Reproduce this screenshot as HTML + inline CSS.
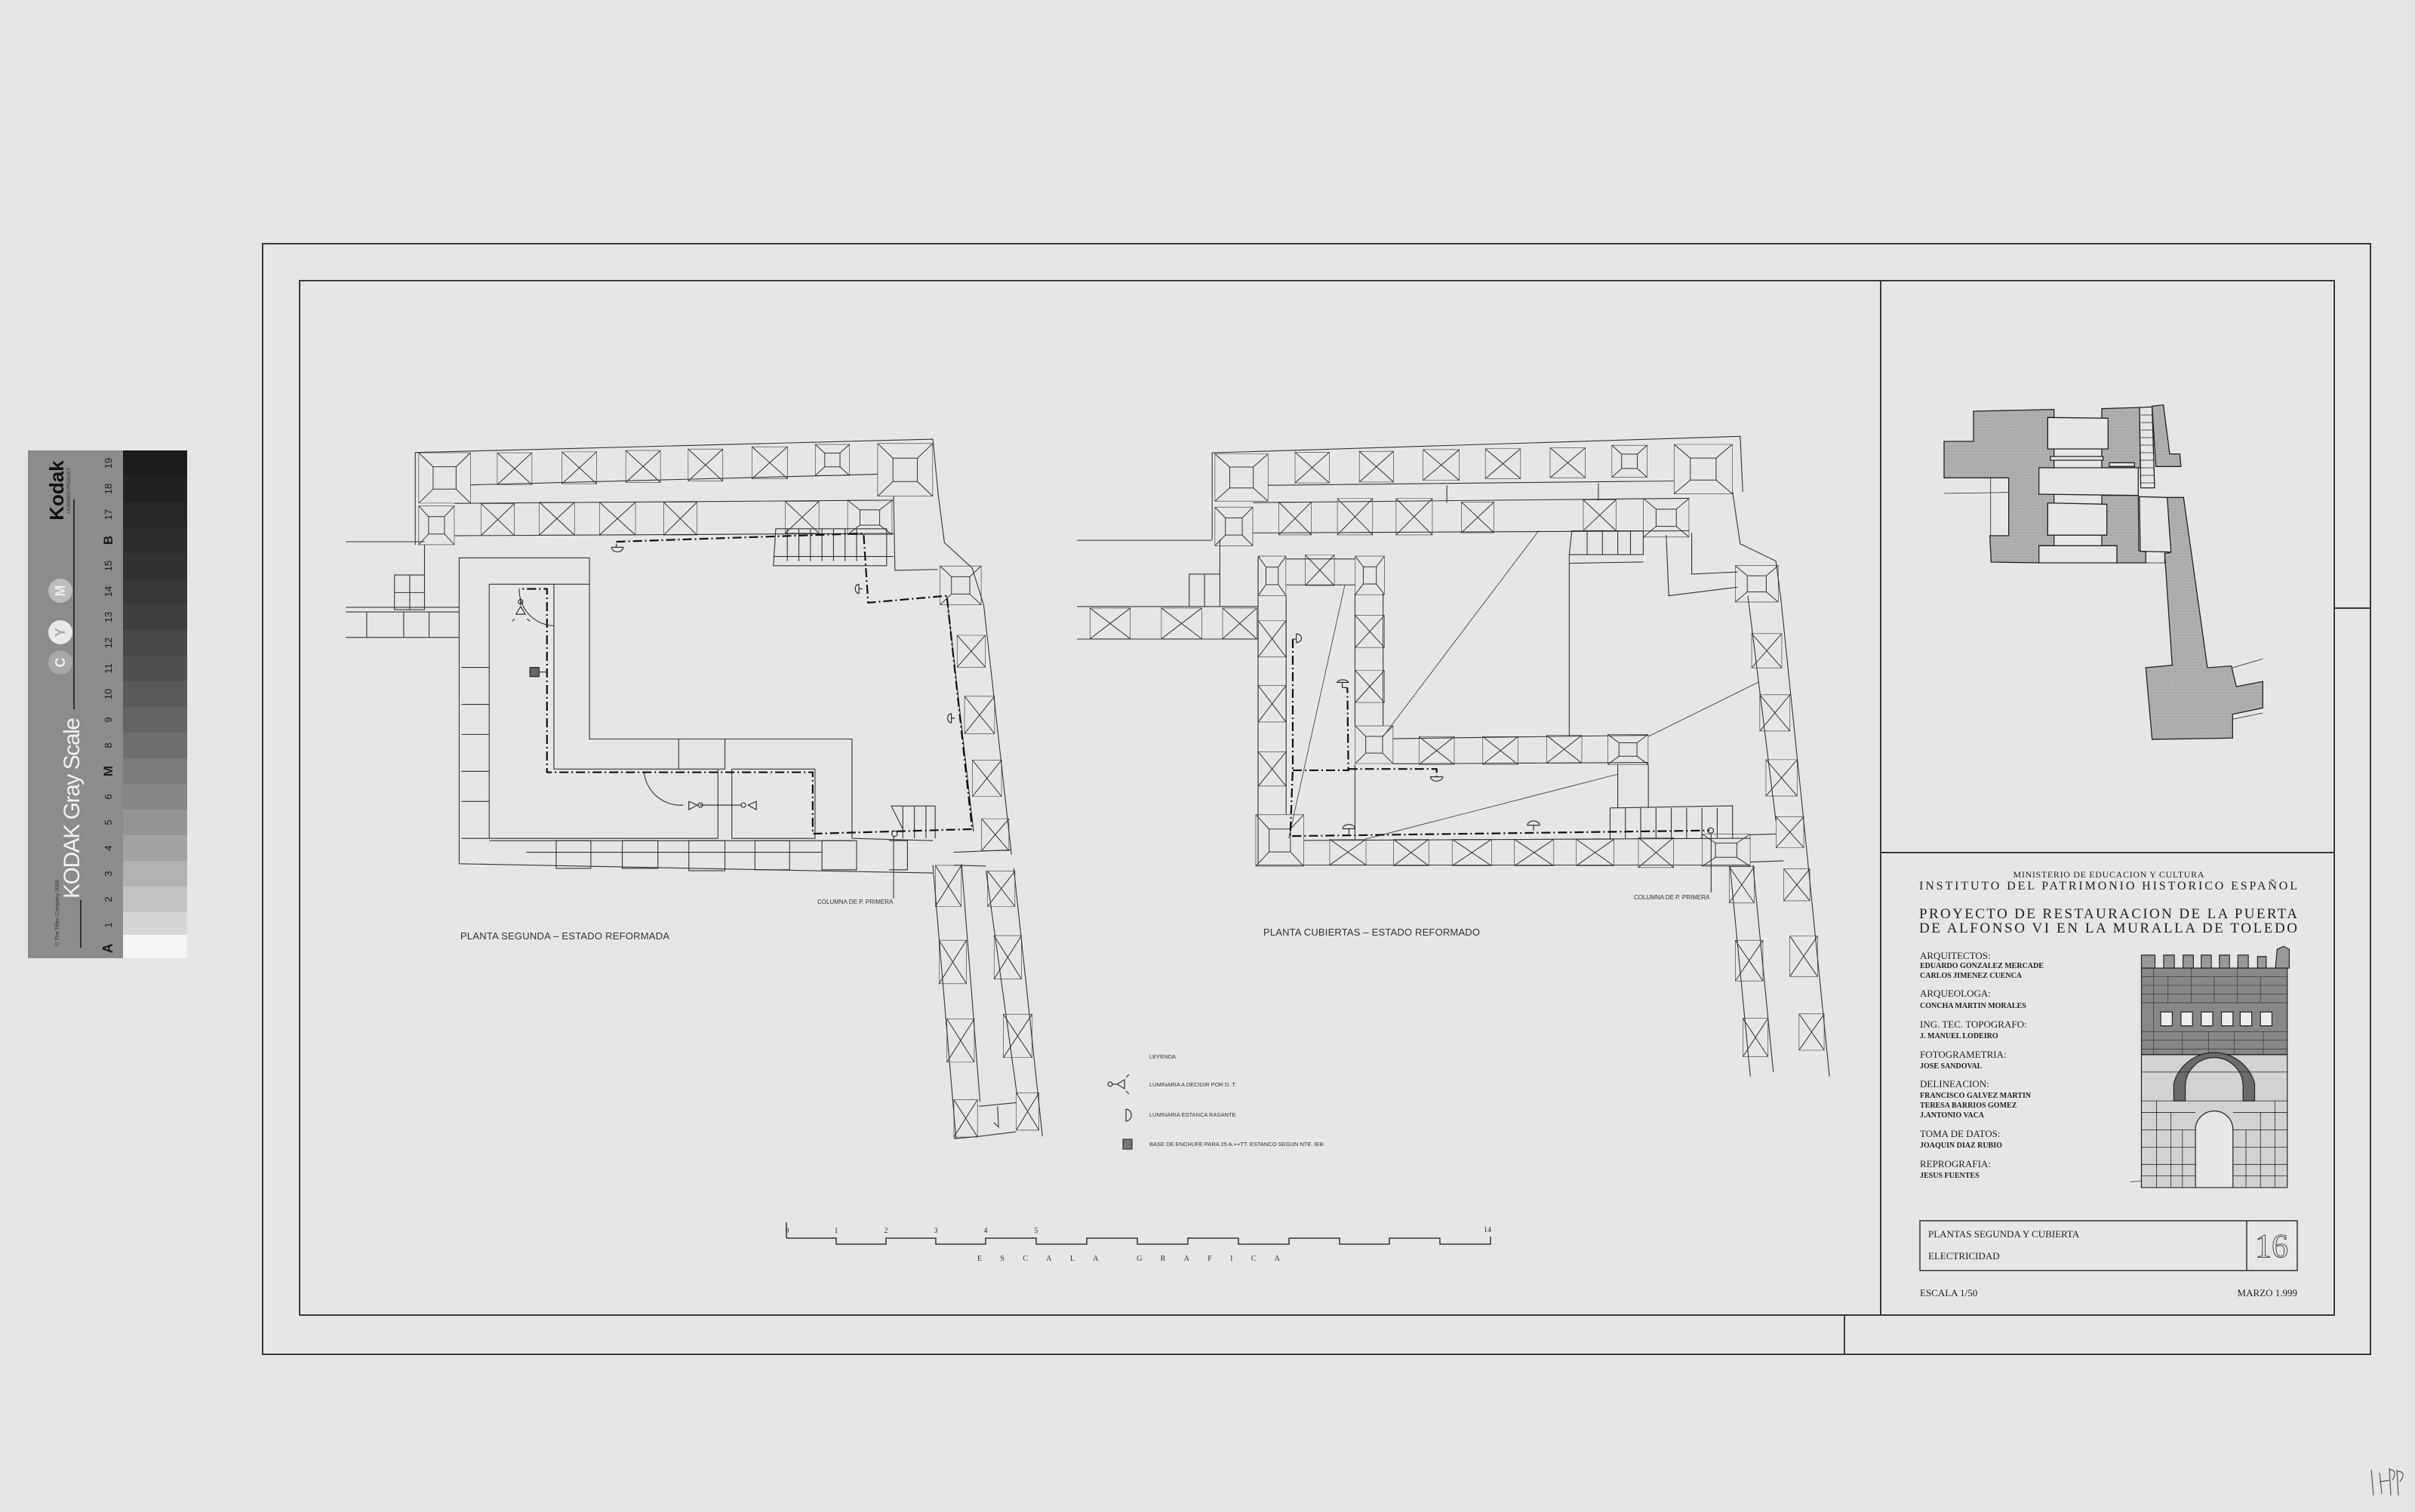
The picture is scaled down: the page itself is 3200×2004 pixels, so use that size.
<!DOCTYPE html>
<html><head><meta charset="utf-8"><style>
html,body{margin:0;padding:0;background:#e6e6e6;}
svg{display:block}
.s{font-family:"Liberation Serif",serif;fill:#222}
.a{font-family:"Liberation Sans",sans-serif;fill:#333}
</style></head><body>
<svg width="3200" height="2004" viewBox="0 0 3200 2004" xmlns="http://www.w3.org/2000/svg">
<defs>
<symbol id="xb" viewBox="0 0 100 100" preserveAspectRatio="none">
<rect x="0" y="0" width="100" height="100" fill="none" stroke="#333" stroke-width="1.2" vector-effect="non-scaling-stroke"/>
<path d="M0 0L100 100M100 0L0 100" stroke="#333" stroke-width="1" vector-effect="non-scaling-stroke"/>
</symbol>
<symbol id="hb" viewBox="0 0 100 100" preserveAspectRatio="none">
<rect x="0" y="0" width="100" height="100" fill="none" stroke="#333" stroke-width="1.2" vector-effect="non-scaling-stroke"/>
<rect x="28" y="28" width="44" height="44" fill="none" stroke="#333" stroke-width="1" vector-effect="non-scaling-stroke"/>
<path d="M0 0L28 28M100 0L72 28M0 100L28 72M100 100L72 72" stroke="#333" stroke-width="1" vector-effect="non-scaling-stroke"/>
</symbol>
<pattern id="dots" width="4" height="4" patternUnits="userSpaceOnUse"><rect width="4" height="4" fill="#b8b8b8"/><circle cx="2" cy="2" r="1" fill="#777"/></pattern>
</defs>

<!-- Kodak gray card -->
<rect x="37" y="597" width="126" height="673" fill="#8c8c8c"/>
<g>
<rect x="163" y="597" width="85" height="34" fill="#1c1c1c"/>
<rect x="163" y="631" width="85" height="34" fill="#212121"/>
<rect x="163" y="665" width="85" height="34" fill="#262626"/>
<rect x="163" y="699" width="85" height="34" fill="#2c2c2c"/>
<rect x="163" y="733" width="85" height="34" fill="#323232"/>
<rect x="163" y="767" width="85" height="34" fill="#383838"/>
<rect x="163" y="801" width="85" height="34" fill="#3f3f3f"/>
<rect x="163" y="835" width="85" height="34" fill="#474747"/>
<rect x="163" y="869" width="85" height="34" fill="#505050"/>
<rect x="163" y="903" width="85" height="34" fill="#5a5a5a"/>
<rect x="163" y="937" width="85" height="34" fill="#646464"/>
<rect x="163" y="971" width="85" height="34" fill="#6f6f6f"/>
<rect x="163" y="1005" width="85" height="34" fill="#7b7b7b"/>
<rect x="163" y="1039" width="85" height="34" fill="#878787"/>
<rect x="163" y="1073" width="85" height="34" fill="#949494"/>
<rect x="163" y="1107" width="85" height="34" fill="#a3a3a3"/>
<rect x="163" y="1141" width="85" height="34" fill="#b2b2b2"/>
<rect x="163" y="1175" width="85" height="34" fill="#c3c3c3"/>
<rect x="163" y="1209" width="85" height="30" fill="#d6d6d6"/>
<rect x="163" y="1239" width="85" height="31" fill="#f6f6f6"/>
</g>
<g font-family="Liberation Sans,sans-serif" font-size="13" fill="#1a1a1a" text-anchor="middle">
<text transform="translate(148,614) rotate(-90)">19</text>
<text transform="translate(148,648) rotate(-90)">18</text>
<text transform="translate(148,682) rotate(-90)">17</text>
<text transform="translate(149,716) rotate(-90)" font-weight="bold" font-size="17">B</text>
<text transform="translate(148,750) rotate(-90)">15</text>
<text transform="translate(148,784) rotate(-90)">14</text>
<text transform="translate(148,818) rotate(-90)">13</text>
<text transform="translate(148,852) rotate(-90)">12</text>
<text transform="translate(148,886) rotate(-90)">11</text>
<text transform="translate(148,920) rotate(-90)">10</text>
<text transform="translate(148,954) rotate(-90)">9</text>
<text transform="translate(148,988) rotate(-90)">8</text>
<text transform="translate(149,1022) rotate(-90)" font-weight="bold" font-size="17">M</text>
<text transform="translate(148,1056) rotate(-90)">6</text>
<text transform="translate(148,1090) rotate(-90)">5</text>
<text transform="translate(148,1124) rotate(-90)">4</text>
<text transform="translate(148,1158) rotate(-90)">3</text>
<text transform="translate(148,1192) rotate(-90)">2</text>
<text transform="translate(148,1226) rotate(-90)">1</text>
<text transform="translate(149,1257) rotate(-90)" font-weight="bold" font-size="18">A</text>
</g>
<text transform="translate(105,1071) rotate(-90)" font-family="Liberation Sans,sans-serif" font-size="30" fill="#f2f2f2" text-anchor="middle" textLength="240">KODAK Gray Scale</text>
<text transform="translate(84,650) rotate(-90)" font-family="Liberation Sans,sans-serif" font-size="26" font-weight="bold" fill="#111" text-anchor="middle">Kodak</text>
<text transform="translate(93,650) rotate(-90)" font-family="Liberation Sans,sans-serif" font-size="6" fill="#222" text-anchor="middle">LICENSED PRODUCT</text>
<text transform="translate(78,1210) rotate(-90)" font-family="Liberation Sans,sans-serif" font-size="7" fill="#333" text-anchor="middle">© The Tiffen Company 2000</text>
<line x1="98" y1="662" x2="98" y2="940" stroke="#111" stroke-width="1.5"/>
<line x1="107" y1="1193" x2="107" y2="1256" stroke="#111" stroke-width="1.5"/>
<circle cx="80" cy="878" r="16" fill="#a8a8a8"/><text transform="translate(86,878) rotate(-90)" font-family="Liberation Sans,sans-serif" font-size="18" font-weight="bold" fill="#eee" text-anchor="middle">C</text>
<circle cx="80" cy="838" r="16" fill="#e8e8e8"/><text transform="translate(86,838) rotate(-90)" font-family="Liberation Sans,sans-serif" font-size="18" font-weight="bold" fill="#aaa" text-anchor="middle">Y</text>
<circle cx="80" cy="783" r="16" fill="#bdbdbd"/><text transform="translate(86,783) rotate(-90)" font-family="Liberation Sans,sans-serif" font-size="18" font-weight="bold" fill="#eee" text-anchor="middle">M</text>

<!-- frames -->
<g fill="none" stroke="#3a3a3a" stroke-width="2">
<rect x="348" y="323" width="2793" height="1472"/>
<rect x="397" y="372" width="2696" height="1371"/>
<line x1="2492" y1="372" x2="2492" y2="1743"/>
<line x1="2492" y1="1130" x2="3093" y2="1130"/>
<line x1="3093" y1="806" x2="3141" y2="806"/>
<line x1="2444" y1="1743" x2="2444" y2="1795"/>
</g>

<!-- LEFT PLAN -->
<g transform="translate(440,560) scale(0.6124)" fill="none" stroke="#333" stroke-width="1.1">
<path vector-effect="non-scaling-stroke" d="M180 265L180 65L1300 36L1312 160M300 135L1180 112M265 175L1215 168M265 245L1215 240M1215 160L1218 320L1310 318M200 265L200 330M30 258L200 258M30 400L275 400M30 410L275 410M30 465L275 465M75 410L75 465M155 410L155 465M210 410L210 465M135 330L200 330L200 405L135 405ZM135 368L200 368M168 330L168 405"/>
<path vector-effect="non-scaling-stroke" d="M1312 160L1325 260L1385 315L1410 395L1470 935M1330 375L1388 885M1300 958L1350 1550M1362 955L1402 1470M1415 970L1482 1455M1475 965L1537 1545M1345 1550L1400 1545L1480 1535M1400 1480L1480 1472M1440 1480L1442 1525L1432 1515M1345 930L1470 925M1345 958L1415 960"/>
<path vector-effect="non-scaling-stroke" d="M275 465L275 293L557 293L557 685L1125 685L1125 900M340 350L557 350M340 350L340 900L835 900L835 750M480 350L480 750L750 750M750 685L750 750L850 750L850 685M865 750L1045 750L1045 900L865 900ZM1125 900L1300 905M275 465L275 955L1300 975M340 905L1125 905M420 930L1060 930M280 530L340 530L340 610L280 610M280 675L340 675L340 755L280 755M280 820L340 820L340 900L280 900"/>
<path vector-effect="non-scaling-stroke" d="M485 905L560 905L560 965L485 965ZM628 905L705 905L705 965L628 965ZM772 905L850 905L850 970L772 970ZM915 905L990 905L990 968L915 968ZM1060 905L1135 905L1135 968L1060 968ZM1205 905L1245 905L1245 968L1205 968"/>
<path vector-effect="non-scaling-stroke" d="M960 230L1200 230L1200 310L955 310ZM985 230L985 300M1010 230L1010 300M1035 230L1035 300M1060 230L1060 300M1085 230L1085 300M1110 230L1110 300M1135 230L1135 300M955 290L1215 290M1210 830L1305 830L1305 900M1235 830L1235 900M1260 830L1260 900M1285 830L1285 900M1210 830L1235 880"/>
<path vector-effect="non-scaling-stroke" d="M480 440A78 78 0 0 1 405 360M675 757A80 80 0 0 0 760 828"/>
<path vector-effect="non-scaling-stroke" d="M1215 895L1215 1030"/>
<use href="#hb" x="187" y="65" width="113" height="110"/>
<use href="#xb" x="357" y="65" width="76" height="70"/>
<use href="#xb" x="497" y="63" width="76" height="70"/>
<use href="#xb" x="635" y="60" width="76" height="70"/>
<use href="#xb" x="770" y="57" width="76" height="70"/>
<use href="#xb" x="908" y="52" width="78" height="70"/>
<use href="#hb" x="1045" y="47" width="75" height="68"/>
<use href="#hb" x="1180" y="45" width="120" height="115"/>
<use href="#hb" x="187" y="180" width="78" height="85"/>
<use href="#xb" x="322" y="175" width="73" height="70"/>
<use href="#xb" x="448" y="172" width="77" height="72"/>
<use href="#xb" x="578" y="172" width="79" height="72"/>
<use href="#xb" x="717" y="172" width="73" height="72"/>
<use href="#xb" x="980" y="170" width="74" height="70"/>
<use href="#hb" x="1115" y="168" width="97" height="75"/>
<use href="#hb" x="1315" y="310" width="90" height="85"/>
<use href="#xb" x="1352" y="460" width="62" height="70"/>
<use href="#xb" x="1368" y="592" width="66" height="82"/>
<use href="#xb" x="1385" y="730" width="64" height="80"/>
<use href="#xb" x="1405" y="857" width="60" height="70"/>
<use href="#xb" x="1305" y="958" width="57" height="90"/>
<use href="#xb" x="1313" y="1120" width="60" height="95"/>
<use href="#xb" x="1330" y="1290" width="60" height="95"/>
<use href="#xb" x="1345" y="1465" width="52" height="82"/>
<use href="#xb" x="1418" y="970" width="60" height="78"/>
<use href="#xb" x="1432" y="1110" width="60" height="95"/>
<use href="#xb" x="1452" y="1280" width="63" height="95"/>
<use href="#xb" x="1480" y="1450" width="50" height="82"/>
<path vector-effect="non-scaling-stroke" stroke="#111" stroke-width="2.2" stroke-dasharray="12 4 2 4" d="M615 258L1150 240L1160 390L1330 375L1385 880L1040 890L1040 757L465 757L465 360L405 360"/>
<g stroke="#222">
<path vector-effect="non-scaling-stroke" d="M615 262L615 270M605 270A10 8 0 0 0 630 270ZM1148 360L1140 360M1140 350A8 10 0 0 0 1140 370ZM1348 640L1340 640M1340 630A8 10 0 0 0 1340 650Z"/>
<path vector-effect="non-scaling-stroke" d="M408 385L408 395M398 415L418 415L408 398ZM395 425L390 430M422 425L428 430M795 828L835 828L885 828M790 828L772 820L772 838ZM900 828L918 820L918 838Z"/>
<circle vector-effect="non-scaling-stroke" cx="408" cy="388" r="5"/><circle vector-effect="non-scaling-stroke" cx="797" cy="828" r="5"/><circle vector-effect="non-scaling-stroke" cx="890" cy="828" r="5"/>
<rect vector-effect="non-scaling-stroke" x="428" y="530" width="20" height="20" fill="#666"/>
<path vector-effect="non-scaling-stroke" d="M448 540L465 540"/>
<circle vector-effect="non-scaling-stroke" cx="1217" cy="890" r="6"/>
</g>
</g>
<text class="a" x="1083" y="1198" font-size="8">COLUMNA DE P. PRIMERA</text>
<text class="a" x="610" y="1245" font-size="13" textLength="277" fill="#444">PLANTA SEGUNDA  –  ESTADO REFORMADA</text>

<!-- RIGHT PLAN -->
<g transform="translate(1400,560) scale(0.676,0.574)" fill="none" stroke="#333" stroke-width="1.1">
<path vector-effect="non-scaling-stroke" d="M305 270L305 70L1340 32L1345 160M415 145L1210 135M765 145L765 185M1062 140L1062 180M385 185L1240 175M385 255L1240 250M40 272L305 272M40 425L395 425M40 500L395 500M260 425L260 350L320 350L320 425M290 350L290 425M320 270L320 350"/>
<path vector-effect="non-scaling-stroke" d="M395 310L395 1020M450 400L450 905M450 375L585 375M450 315L585 315M640 395L640 700M585 395L585 700M660 730L1160 722M660 788L1160 785M1100 790L1100 890M1160 790L1160 890M390 1022L1360 1022M485 965L1360 960M585 790L585 962"/>
<path vector-effect="non-scaling-stroke" d="M1010 250L1150 250L1150 305L1005 305ZM1040 250L1040 305M1070 250L1070 305M1100 250L1100 305M1125 250L1125 305M1005 325L1150 322M1005 305L1005 725M1195 260L1200 400L1335 380M1245 255L1245 350L1335 345M1085 890L1325 885L1325 960M1085 890L1085 962M1115 890L1115 960M1145 890L1145 960M1175 890L1175 960M1205 890L1205 960M1235 890L1235 960M1265 890L1265 960M1295 890L1295 960M1360 952L1410 950M1360 1015L1425 1012"/>
<path vector-effect="non-scaling-stroke" d="M1325 160L1340 280L1410 320L1420 410L1468 960L1515 1510M1355 400L1410 920M1320 1025L1360 1510M1365 1022L1405 1500"/>
<path vector-effect="non-scaling-stroke" stroke-width="0.8" d="M640 725L945 250M455 960L565 375M605 962L1100 812M1160 725L1375 600"/>
<path vector-effect="non-scaling-stroke" d="M1283 950L1283 1085"/>
<use href="#hb" x="310" y="72" width="105" height="110"/>
<use href="#xb" x="467" y="68" width="68" height="72"/>
<use href="#xb" x="593" y="66" width="68" height="72"/>
<use href="#xb" x="718" y="62" width="72" height="72"/>
<use href="#xb" x="840" y="60" width="70" height="70"/>
<use href="#xb" x="967" y="58" width="70" height="70"/>
<use href="#hb" x="1088" y="52" width="70" height="75"/>
<use href="#hb" x="1210" y="50" width="115" height="115"/>
<use href="#hb" x="310" y="195" width="75" height="90"/>
<use href="#xb" x="435" y="183" width="65" height="77"/>
<use href="#xb" x="550" y="175" width="70" height="85"/>
<use href="#xb" x="665" y="175" width="72" height="85"/>
<use href="#xb" x="793" y="183" width="65" height="72"/>
<use href="#xb" x="1032" y="178" width="65" height="72"/>
<use href="#hb" x="1150" y="175" width="90" height="90"/>
<use href="#xb" x="65" y="428" width="80" height="72"/>
<use href="#xb" x="205" y="428" width="80" height="72"/>
<use href="#xb" x="325" y="428" width="68" height="72"/>
<use href="#hb" x="395" y="308" width="55" height="92"/>
<use href="#xb" x="487" y="305" width="58" height="72"/>
<use href="#hb" x="585" y="308" width="58" height="90"/>
<use href="#xb" x="395" y="457" width="55" height="85"/>
<use href="#xb" x="395" y="607" width="55" height="85"/>
<use href="#xb" x="395" y="760" width="55" height="80"/>
<use href="#hb" x="390" y="905" width="95" height="120"/>
<use href="#xb" x="585" y="445" width="58" height="75"/>
<use href="#xb" x="585" y="572" width="58" height="75"/>
<use href="#hb" x="585" y="700" width="75" height="88"/>
<use href="#xb" x="710" y="725" width="70" height="65"/>
<use href="#xb" x="835" y="725" width="70" height="65"/>
<use href="#xb" x="960" y="722" width="70" height="65"/>
<use href="#hb" x="1080" y="720" width="80" height="70"/>
<use href="#xb" x="535" y="962" width="72" height="60"/>
<use href="#xb" x="660" y="962" width="70" height="62"/>
<use href="#xb" x="775" y="962" width="78" height="62"/>
<use href="#xb" x="897" y="962" width="78" height="62"/>
<use href="#xb" x="1018" y="962" width="75" height="62"/>
<use href="#xb" x="1140" y="958" width="70" height="70"/>
<use href="#hb" x="1265" y="950" width="95" height="75"/>
<use href="#hb" x="1330" y="330" width="85" height="85"/>
<use href="#xb" x="1362" y="487" width="60" height="80"/>
<use href="#xb" x="1378" y="628" width="60" height="85"/>
<use href="#xb" x="1390" y="778" width="62" height="85"/>
<use href="#xb" x="1410" y="910" width="55" height="72"/>
<use href="#xb" x="1425" y="1030" width="52" height="75"/>
<use href="#xb" x="1437" y="1185" width="55" height="95"/>
<use href="#xb" x="1455" y="1365" width="50" height="85"/>
<use href="#xb" x="1318" y="1025" width="50" height="85"/>
<use href="#xb" x="1330" y="1195" width="55" height="95"/>
<use href="#xb" x="1345" y="1375" width="50" height="90"/>
<path vector-effect="non-scaling-stroke" stroke="#111" stroke-width="2.2" stroke-dasharray="12 4 2 4" d="M463 500L463 800L458 955L1280 942M463 803L572 803L570 612M572 800L745 800L745 818"/>
<g stroke="#222">
<path vector-effect="non-scaling-stroke" d="M463 500L470 500M470 488A10 10 0 0 1 470 508ZM570 612L560 612L560 600M550 600A12 10 0 0 1 572 600ZM733 818A12 10 0 0 0 757 818ZM573 950L573 938M561 938A12 10 0 0 1 585 938ZM935 942L935 930M923 930A12 10 0 0 1 947 930Z"/>
<circle vector-effect="non-scaling-stroke" cx="1282" cy="942" r="6"/>
</g>
</g>
<text class="a" x="2165" y="1192" font-size="8">COLUMNA DE P. PRIMERA</text>
<text class="a" x="1674" y="1240" font-size="13" textLength="287" fill="#444">PLANTA CUBIERTAS  –  ESTADO REFORMADO</text>

<!-- legend -->
<g font-family="Liberation Sans,sans-serif" font-size="7.5" fill="#333">
<text x="1523" y="1403">LEYENDA</text>
<text x="1523" y="1440">LUMINARIA A DECIDIR POR D. T.</text>
<text x="1523" y="1480">LUMINARIA ESTANCA RASANTE</text>
<text x="1523" y="1519">BASE DE ENCHUFE PARA 25 A.++TT. ESTANCO SEGUN NTE. IEB</text>
</g>
<g fill="none" stroke="#333" stroke-width="1.2">
<circle cx="1471" cy="1437" r="3"/><path d="M1474 1437L1480 1437L1490 1431L1490 1443L1480 1437M1492 1428L1496 1424M1492 1446L1496 1450"/>
<path d="M1492 1470L1492 1486A7 8 0 0 0 1492 1470"/>
<rect x="1488" y="1510" width="12" height="13" fill="#777"/>
</g>

<!-- scale bar -->
<path d="M1042 1641L1108 1641L1108 1649L1174 1649L1174 1641L1240 1641L1240 1649L1306 1649L1306 1641L1373 1641L1373 1649L1440 1649L1440 1641L1507 1641L1507 1649L1574 1649L1574 1641L1641 1641L1641 1649L1708 1649L1708 1641L1775 1641L1775 1649L1841 1649L1841 1641L1908 1641L1908 1649L1975 1649L1975 1639M1042 1641L1042 1620" fill="none" stroke="#333" stroke-width="1.5"/>
<g font-family="Liberation Serif,serif" font-size="10" fill="#333" text-anchor="middle">
<text x="1043" y="1634">0</text><text x="1108" y="1634">1</text><text x="1174" y="1634">2</text><text x="1240" y="1634">3</text><text x="1306" y="1634">4</text><text x="1373" y="1634">5</text><text x="1971" y="1633">14</text>
</g>
<text x="1295" y="1671" font-family="Liberation Serif,serif" font-size="10" fill="#333" textLength="425" letter-spacing="24">ESCALA GRAFICA</text>

<!-- site plan -->
<g transform="translate(2550,510) scale(0.3333)" stroke="#222" stroke-width="1.3">
<path vector-effect="non-scaling-stroke" fill="url(#dots)" d="M78 225L195 225L195 105L515 98L515 130L490 130L490 255L515 255L515 330L455 330L455 435L515 435L515 470L490 470L490 598L515 598L515 640L455 640L455 708L265 705L260 600L335 600L335 370L78 370Z"/>
<path vector-effect="non-scaling-stroke" fill="url(#dots)" d="M705 95L855 90L858 330L705 330ZM705 440L850 440L852 660L880 665L880 708L765 708L765 640L705 640Z"/>
<path vector-effect="non-scaling-stroke" fill="url(#dots)" d="M905 85L950 80L975 275L1015 275L1020 325L920 325Z"/>
<path vector-effect="non-scaling-stroke" fill="url(#dots)" d="M965 448L1030 448L1125 1125L1220 1118L1240 1200L1345 1180L1345 1285L1225 1310L1225 1405L905 1410L880 1125L985 1115L955 670L975 668Z"/>
<g fill="#e6e6e6">
<path vector-effect="non-scaling-stroke" d="M490 130L730 133L730 255L490 255Z"/>
<path vector-effect="non-scaling-stroke" d="M500 285L710 285L710 300L500 300Z"/>
<path vector-effect="non-scaling-stroke" d="M455 330L850 330L850 440L455 435Z"/>
<path vector-effect="non-scaling-stroke" d="M490 470L725 475L725 598L490 598Z"/>
<path vector-effect="non-scaling-stroke" d="M455 640L765 640L765 708L455 708Z"/>
<path vector-effect="non-scaling-stroke" d="M855 445L965 448L980 665L858 662Z"/>
<path vector-effect="non-scaling-stroke" d="M855 90L905 88L915 410L860 410Z"/>
<path vector-effect="non-scaling-stroke" d="M735 310L835 310L835 325L735 325Z"/>
</g>
<path vector-effect="non-scaling-stroke" fill="none" stroke-width="0.8" d="M860 120L905 120M860 150L908 150M860 180L910 180M860 210L910 210M860 240L912 240M860 270L912 270M860 300L912 300M860 330L914 330M860 360L914 360M860 390L915 390M78 432L335 428M263 370L263 600M1225 1125L1345 1090M1225 1330L1345 1305M880 708L955 708M955 670L955 708"/>
</g>

<!-- title block text -->
<g class="s">
<text x="2794" y="1163" font-size="12" text-anchor="middle" textLength="253" class="s">MINISTERIO DE EDUCACION Y CULTURA</text>
<text x="2543" y="1179" font-size="16" textLength="501" class="s">INSTITUTO DEL PATRIMONIO HISTORICO ESPAÑOL</text>
<text x="2543" y="1217" font-size="19" textLength="501" class="s">PROYECTO DE RESTAURACION DE LA PUERTA</text>
<text x="2543" y="1236" font-size="19" textLength="501" class="s">DE ALFONSO VI EN LA MURALLA DE TOLEDO</text>
<g font-size="13">
<text x="2544" y="1271">ARQUITECTOS:</text>
<text x="2544" y="1321">ARQUEOLOGA:</text>
<text x="2544" y="1362">ING. TEC. TOPOGRAFO:</text>
<text x="2544" y="1402">FOTOGRAMETRIA:</text>
<text x="2544" y="1441">DELINEACION:</text>
<text x="2544" y="1507">TOMA DE DATOS:</text>
<text x="2544" y="1547">REPROGRAFIA:</text>
</g>
<g font-size="10" font-weight="bold">
<text x="2544" y="1283">EDUARDO GONZALEZ MERCADE</text>
<text x="2544" y="1296">CARLOS JIMENEZ CUENCA</text>
<text x="2544" y="1336">CONCHA MARTIN MORALES</text>
<text x="2544" y="1376">J. MANUEL LODEIRO</text>
<text x="2544" y="1416">JOSE SANDOVAL</text>
<text x="2544" y="1455">FRANCISCO GALVEZ MARTIN</text>
<text x="2544" y="1468">TERESA BARRIOS GOMEZ</text>
<text x="2544" y="1481">J.ANTONIO VACA</text>
<text x="2544" y="1521">JOAQUIN DIAZ RUBIO</text>
<text x="2544" y="1561">JESUS FUENTES</text>
</g>
<rect x="2544" y="1618" width="500" height="66" fill="none" stroke="#333" stroke-width="1.5"/>
<line x1="2977" y1="1618" x2="2977" y2="1684" stroke="#333" stroke-width="1.5"/>
<text x="2555" y="1640" font-size="13">PLANTAS SEGUNDA Y CUBIERTA</text>
<text x="2555" y="1669" font-size="13">ELECTRICIDAD</text>
<text x="3010" y="1666" font-size="44" text-anchor="middle" fill="none" stroke="#222" stroke-width="0.8">16</text>
<text x="2544" y="1718" font-size="13">ESCALA 1/50</text>
<text x="3044" y="1718" font-size="13" text-anchor="end">MARZO 1.999</text>
</g>

<!-- gate elevation -->
<g transform="translate(2490,1130) scale(0.3827)" stroke="#222" stroke-width="1.2">
<rect vector-effect="non-scaling-stroke" x="908" y="400" width="505" height="300" fill="#888"/>
<path vector-effect="non-scaling-stroke" fill="none" stroke="#333" stroke-width="0.7" d="M908 430L1413 430M908 460L1413 460M908 490L1413 490M908 520L1413 520M908 620L1413 620M908 650L1413 650M908 680L1413 680M950 400L950 700M1000 430L1000 520M1080 400L1080 520M1160 430L1160 520M1240 400L1240 520M1320 430L1320 520M1050 620L1050 700M1140 620L1140 700M1230 620L1230 700M1330 620L1330 700"/>
<path vector-effect="non-scaling-stroke" fill="#999" d="M908 400L908 355L955 355L955 400ZM985 400L985 355L1022 355L1022 400ZM1052 400L1052 355L1088 355L1088 400ZM1115 400L1115 355L1150 355L1150 400ZM1178 400L1178 355L1213 355L1213 400ZM1242 400L1242 355L1278 355L1278 400ZM1310 400L1310 360L1340 360L1340 400ZM1372 400L1378 335L1400 325L1420 335L1420 400Z"/>
<rect vector-effect="non-scaling-stroke" x="908" y="700" width="505" height="460" fill="#d2d2d2"/>
<path vector-effect="non-scaling-stroke" fill="#6a6a6a" d="M1020 860L1020 800A145 145 0 0 1 1300 800L1300 860L1260 860L1260 810A100 100 0 0 0 1060 810L1060 860Z"/>
<path vector-effect="non-scaling-stroke" fill="#e6e6e6" d="M1095 1160L1095 960A65 65 0 0 1 1225 960L1225 1160Z"/>
<g fill="#eee">
<rect vector-effect="non-scaling-stroke" x="975" y="552" width="40" height="48"/>
<rect vector-effect="non-scaling-stroke" x="1045" y="552" width="40" height="48"/>
<rect vector-effect="non-scaling-stroke" x="1115" y="552" width="40" height="48"/>
<rect vector-effect="non-scaling-stroke" x="1185" y="552" width="40" height="48"/>
<rect vector-effect="non-scaling-stroke" x="1250" y="552" width="40" height="48"/>
<rect vector-effect="non-scaling-stroke" x="1320" y="552" width="40" height="48"/>
</g>
<path vector-effect="non-scaling-stroke" fill="none" stroke-width="0.8" d="M908 760L1413 760M908 900L1095 900M1225 900L1413 900M908 960L1095 960M1225 960L1413 960M908 1020L1095 1020M1225 1020L1413 1020M908 1080L1095 1080M1225 1080L1413 1080M908 1120L1095 1120M1225 1120L1413 1120M960 860L960 1160M1010 900L1010 1160M1050 960L1050 1160M1270 960L1270 1160M1320 900L1320 1160M1370 860L1370 1160M870 1140L908 1138M908 860L1413 860"/>
</g>

<!-- handwriting -->
<path d="M3142 1948L3145 1982M3153 1952L3156 1980M3153 1964L3166 1962M3166 1946L3168 1982M3166 1948Q3178 1948 3170 1962M3176 1948L3178 1982M3176 1950Q3190 1950 3180 1964" fill="none" stroke="#555" stroke-width="1.2"/>
</svg>
</body></html>
